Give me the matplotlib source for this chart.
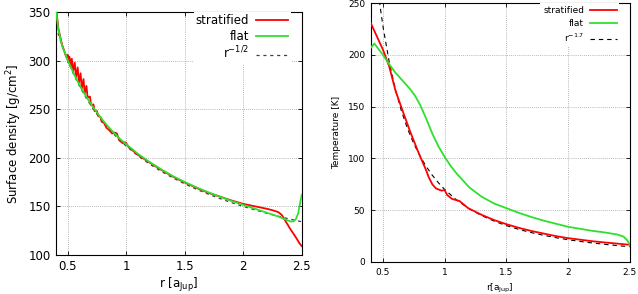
import matplotlib
matplotlib.use('Agg')
import matplotlib.pyplot as plt

# ---- left panel: surface density ----
r_sd_dash = [0.40, 0.42, 0.45, 0.50, 0.55, 0.60, 0.65, 0.70, 0.75, 0.80, 0.85, 0.90,
             0.95, 1.00, 1.10, 1.20, 1.30, 1.40, 1.50, 1.60, 1.70, 1.80, 1.90, 2.00,
             2.10, 2.20, 2.30, 2.40, 2.50]
sd_dash = [335.2, 327.1, 316.0, 299.8, 285.9, 273.7, 263.0, 253.4, 244.8, 237.0, 229.9,
           223.5, 217.5, 212.0, 202.1, 193.5, 185.9, 179.2, 173.1, 167.6, 162.6, 158.0,
           153.8, 149.9, 146.3, 142.9, 139.8, 136.8, 134.1]

r_sd_flat = [0.40, 0.42, 0.45, 0.50, 0.55, 0.60, 0.65, 0.70, 0.75, 0.80, 0.85, 0.90,
             0.95, 1.00, 1.10, 1.20, 1.30, 1.40, 1.50, 1.60, 1.70, 1.80, 1.90, 2.00,
             2.10, 2.20, 2.30, 2.35, 2.40, 2.43, 2.45, 2.47, 2.48, 2.49, 2.50]
sd_flat = [352, 332, 316, 300.5, 287, 275, 264.5, 255, 246.5, 238.5, 231.5, 225, 219,
           214, 204, 195.5, 188, 181, 175, 169.5, 164.5, 160, 155.5, 151.5, 147.5,
           143.5, 139.5, 137, 134.5, 134.5, 137, 143, 150, 156, 162]

r_sd_strat = [0.40, 0.42, 0.45, 0.47, 0.49, 0.50, 0.505, 0.515, 0.525, 0.535, 0.545,
              0.56, 0.57, 0.585, 0.595, 0.61, 0.62, 0.635, 0.645, 0.66, 0.67, 0.69,
              0.70, 0.72, 0.73, 0.75, 0.76, 0.78, 0.79, 0.81, 0.83, 0.85, 0.88, 0.90,
              0.92, 0.94, 0.97, 0.99, 1.00, 1.02, 1.05, 1.10, 1.20, 1.30, 1.40, 1.50,
              1.60, 1.70, 1.80, 1.90, 2.00, 2.10, 2.20, 2.25, 2.30, 2.33, 2.36, 2.40,
              2.45, 2.48, 2.50]
sd_strat = [355, 333, 317, 310, 303, 306, 298, 304, 294, 302, 289, 298, 283, 293, 277,
            287, 271, 281, 266, 274, 262, 263, 254, 255, 248, 248, 243, 242, 237, 236,
            231, 229, 225, 226, 225, 218, 215, 216, 215, 211, 208, 203, 195, 187.5,
            180.5, 174.5, 169, 164, 160, 156, 152.5, 150, 147.5, 146, 144, 141, 135,
            127, 118, 112, 109]

# ---- right panel: temperature ----
r_t_dash = [0.47, 0.50, 0.55, 0.60, 0.65, 0.70, 0.75, 0.80, 0.85, 0.90, 0.95, 1.00,
            1.10, 1.20, 1.30, 1.40, 1.50, 1.60, 1.70, 1.80, 1.90, 2.00, 2.10, 2.20,
            2.30, 2.40, 2.50]
t_dash = [252.5, 227.4, 193.4, 166.8, 145.6, 128.4, 114.2, 102.3, 92.3, 83.7, 76.4,
          70.0, 59.5, 51.3, 44.8, 39.5, 35.1, 31.5, 28.4, 25.8, 23.5, 21.5, 19.8,
          18.3, 17.0, 15.8, 14.7]

r_t_flat = [0.40, 0.43, 0.50, 0.55, 0.60, 0.66, 0.72, 0.76, 0.80, 0.85, 0.90, 0.95,
            1.00, 1.05, 1.10, 1.20, 1.30, 1.40, 1.50, 1.60, 1.70, 1.80, 1.90, 2.00,
            2.10, 2.20, 2.30, 2.40, 2.45, 2.48, 2.50]
t_flat = [207, 211, 200, 191, 183, 175, 167, 160.5, 152, 138.5, 124, 111.5, 101.5,
          92.5, 85, 72, 63, 56.5, 52, 47.5, 43.5, 40, 37, 34, 32, 30, 28.5, 26.5,
          24.5, 21, 17]

r_t_strat = [0.40, 0.45, 0.50, 0.55, 0.60, 0.65, 0.72, 0.79, 0.83, 0.85, 0.87, 0.90,
             0.93, 0.975, 1.00, 1.02, 1.06, 1.12, 1.19, 1.30, 1.40, 1.50, 1.60, 1.70,
             1.80, 1.90, 2.00, 2.10, 2.20, 2.30, 2.40, 2.50]
t_strat = [231, 218, 205, 189, 166, 149, 126, 105, 94, 88.5, 82, 75, 71, 68.9, 69.5,
           64.7, 60.9, 58.9, 52, 45.5, 40.5, 36.5, 33, 30, 27.5, 25, 23, 21.5, 20,
           18.8, 17.7, 16.6]

RED = '#ff0000'
GREEN = '#2ee02e'

fig = plt.figure(figsize=(6.38, 2.94), dpi=100)
ax1 = fig.add_axes([0.0878, 0.133, 0.473 - 0.0878, 0.959 - 0.133])
ax2 = fig.add_axes([0.581, 0.109, 0.987 - 0.581, 0.989 - 0.109])


def style(ax, fs):
    ax.grid(True, color='#a0a0a0', linestyle=(0, (1, 1.5)), linewidth=0.6)
    ax.tick_params(direction='in', top=True, right=True, labelsize=fs,
                   length=3, width=0.6, pad=4)
    for s in ax.spines.values():
        s.set_linewidth(0.8)


ax1.plot(r_sd_strat, sd_strat, color=RED, lw=1.3, label='stratified', zorder=3)
ax1.plot(r_sd_flat, sd_flat, color=GREEN, lw=1.3, label='flat', zorder=4)
ax1.plot(r_sd_dash, sd_dash, color='#404040', lw=0.9, ls=(0, (2.5, 3)),
         label='r$^{-1/2}$', zorder=2)
ax1.set_xlim(0.4, 2.5)
ax1.set_ylim(100, 350)
ax1.set_xticks([0.5, 1, 1.5, 2, 2.5])
ax1.set_xticklabels(['0.5', '1', '1.5', '2', '2.5'])
ax1.set_yticks(range(100, 351, 50))
style(ax1, 8.5)
ax1.set_ylabel('Surface density [g/cm$^2$]', fontsize=8.5, labelpad=3)
ax1.set_xlabel(r'r [a$_{\rm Jup}$]', fontsize=8.5, labelpad=2)
leg1 = ax1.legend(loc='upper right', bbox_to_anchor=(0.955, 1.0), fontsize=8.5,
                  markerfirst=False, frameon=True, fancybox=False, edgecolor='none',
                  facecolor='white', framealpha=1, handlelength=2.7,
                  borderaxespad=0.0, borderpad=0.2, labelspacing=0.2,
                  handletextpad=0.6)

ax2.plot(r_t_strat, t_strat, color=RED, lw=1.3, label='stratified', zorder=3)
ax2.plot(r_t_flat, t_flat, color=GREEN, lw=1.3, label='flat', zorder=4)
ax2.plot(r_t_dash, t_dash, color='black', lw=0.8, ls=(0, (4, 3.5)),
         label='r$^{-1.7}$', zorder=2)
ax2.set_xlim(0.4, 2.5)
ax2.set_ylim(0, 250)
ax2.set_xticks([0.5, 1, 1.5, 2, 2.5])
ax2.set_xticklabels(['0.5', '1', '1.5', '2', '2.5'])
ax2.set_yticks(range(0, 251, 50))
style(ax2, 6.5)
ax2.set_ylabel('Temperature [K]', fontsize=6.5, labelpad=5)
ax2.set_xlabel(r'r[a$_{\rm Jup}$]', fontsize=6.5, labelpad=4)
leg2 = ax2.legend(loc='upper right', bbox_to_anchor=(0.96, 1.0), fontsize=6.5,
                  markerfirst=False, frameon=True, fancybox=False, edgecolor='none',
                  facecolor='white', framealpha=1, handlelength=3.0,
                  borderaxespad=0.0, borderpad=0.3, labelspacing=0.45,
                  handletextpad=0.6)

fig.savefig('out.png', dpi=100)
